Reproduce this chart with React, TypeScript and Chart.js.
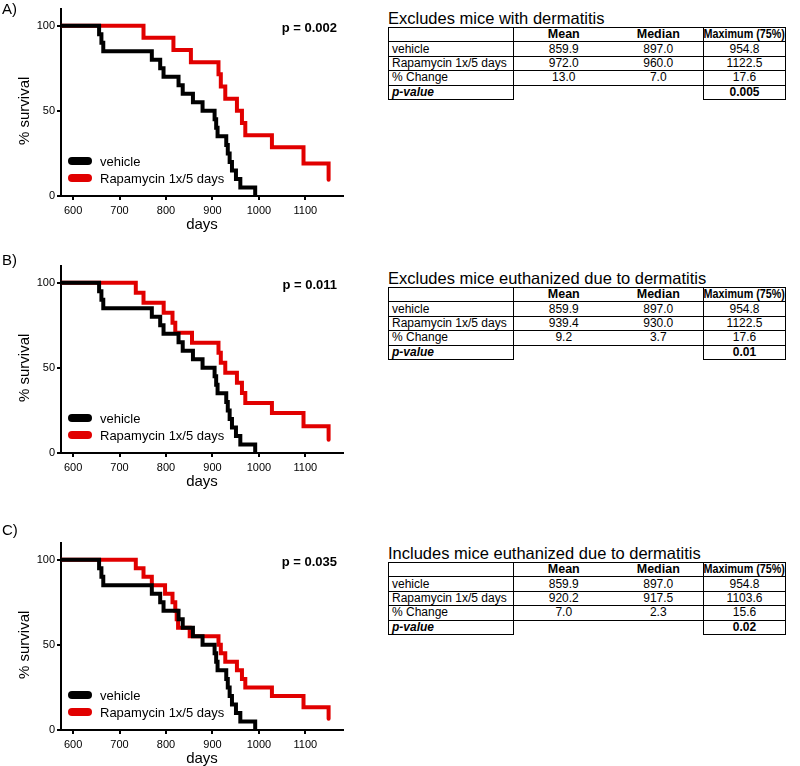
import React, { useEffect, useRef } from "react";
import { Chart, registerables } from "chart.js";

Chart.register(...registerables);

const FONT = "'Liberation Sans', Arial, Helvetica, sans-serif";
const RED = "#e10000";

// ---- axis config values ----
const xTicks = [600, 700, 800, 900, 1000, 1100];
const yTicks = [0, 50, 100];
const xMin = 574;
const xMax = 1181;
const yMax = 110;

// ---- series (Kaplan-Meier steps: day of event, survival % after event) ----
const seriesNames = ["vehicle", "Rapamycin 1x/5 days"];

const vehicleDays = [0, 656, 661, 665, 769.5, 787.5, 794.7, 827, 836, 858, 878.7, 904.6, 908, 911, 929.7, 933, 937, 942, 950.6, 960, 992];
const vehicleSurvival = [100, 95, 90, 85, 80, 75, 70, 65, 60, 55, 50, 45, 40, 35, 30, 25, 20, 15, 10, 5, 0];

const rapaDaysA = [0, 751.6, 816, 853.6, 913, 918, 927.6, 952.7, 963.5, 970.7, 1028, 1096, 1150];
const rapaSurvivalA = [100, 92.86, 85.71, 78.57, 71.43, 64.29, 57.14, 50, 42.86, 35.71, 28.57, 19.05, 9.52];

const rapaDaysB = [0, 735, 751.6, 795, 814, 820, 856, 913, 918, 927.6, 952.7, 963.5, 970.7, 1028, 1096, 1150];
const rapaSurvivalB = [100, 94.12, 88.24, 82.35, 76.47, 70.59, 64.71, 58.82, 52.94, 47.06, 41.18, 35.29, 29.41, 23.53, 15.69, 7.84];

const rapaDaysC = [0, 735, 751.6, 769.5, 798, 814, 820, 823, 826, 851, 913, 918, 927.6, 952.7, 963.5, 970.7, 1028, 1096, 1150];
const rapaSurvivalC = [100, 95, 90, 85, 80, 75, 70, 65, 60, 55, 50, 45, 40, 35, 30, 25, 20, 13.33, 6.67];

const panelLabels = ["A)", "B)", "C)"];
const pTexts = ["p = 0.002", "p = 0.011", "p = 0.035"];

// ---- tables ----
const tableTitles = [
  "Excludes mice with dermatitis",
  "Excludes mice euthanized due to dermatitis",
  "Includes mice euthanized due to dermatitis",
];
const columnHeaders = ["Mean", "Median", "Maximum (75%)"];
const rowLabels = ["vehicle", "Rapamycin 1x/5 days", "% Change"];
const tableValuesA = [["859.9", "897.0", "954.8"], ["972.0", "960.0", "1122.5"], ["13.0", "7.0", "17.6"]];
const tableValuesB = [["859.9", "897.0", "954.8"], ["939.4", "930.0", "1122.5"], ["9.2", "3.7", "17.6"]];
const tableValuesC = [["859.9", "897.0", "954.8"], ["920.2", "917.5", "1103.6"], ["7.0", "2.3", "15.6"]];
const pValueLabel = "p-value";
const tablePValues = ["0.005", "0.01", "0.02"];

const toPoints = (d: number[], s: number[]) => d.map((x, i) => ({ x, y: s[i] }));

function SurvivalChart(props: { days: number[]; surv: number[]; pText: string }) {
  const ref = useRef<HTMLCanvasElement>(null);
  useEffect(() => {
    if (!ref.current) return;
    const overlay = {
      id: "overlay",
      afterDraw(chart: any) {
        const { ctx, chartArea, scales } = chart;
        ctx.save();
        ctx.fillStyle = "#000";
        ctx.font = `bold 13px ${FONT}`;
        ctx.textAlign = "right";
        ctx.textBaseline = "middle";
        ctx.fillText(props.pText, chartArea.right - 6, scales.y.getPixelForValue(100) + 3);
        chart.data.datasets.forEach((ds: any, i: number) => {
          const y = chartArea.bottom - 35 + i * 17;
          ctx.strokeStyle = ds.borderColor;
          ctx.lineWidth = 8;
          ctx.lineCap = "round";
          ctx.beginPath();
          ctx.moveTo(chartArea.left + 11, y);
          ctx.lineTo(chartArea.left + 27, y);
          ctx.stroke();
          ctx.font = `13px ${FONT}`;
          ctx.textAlign = "left";
          ctx.fillText(ds.label, chartArea.left + 39, y + 1);
        });
        ctx.translate(25, scales.y.getPixelForValue(50));
        ctx.rotate(-Math.PI / 2);
        ctx.textAlign = "center";
        ctx.font = `15px ${FONT}`;
        ctx.fillText("% survival", 0, 0);
        ctx.restore();
      },
    };
    const border = { display: true, color: "#000", width: 2 };
    const chart = new Chart(ref.current, {
      type: "line",
      data: {
        datasets: [
          {
            label: seriesNames[0],
            data: toPoints(vehicleDays, vehicleSurvival),
            borderColor: "#000",
            backgroundColor: "#000",
            borderWidth: 4,
            borderCapStyle: "round",
            stepped: true,
            pointRadius: 0,
            fill: false,
            clip: 0,
          },
          {
            label: seriesNames[1],
            data: toPoints(props.days, props.surv),
            borderColor: RED,
            backgroundColor: RED,
            borderWidth: 4,
            borderCapStyle: "round",
            stepped: true,
            pointRadius: 0,
            fill: false,
            clip: 0,
          },
        ],
      },
      options: {
        animation: false,
        responsive: false,
        devicePixelRatio: 1,
        layout: { padding: { top: 7, right: 17, left: 0, bottom: 0 } },
        plugins: { legend: { display: false }, tooltip: { enabled: false } },
        scales: {
          x: {
            type: "linear",
            min: xMin,
            max: xMax,
            afterBuildTicks: (s: any) => {
              s.ticks = xTicks.map((v) => ({ value: v }));
            },
            afterFit: (s: any) => {
              s.height = 44;
            },
            border,
            grid: { display: true, drawOnChartArea: false, drawTicks: true, tickLength: 4, color: "#000", lineWidth: 2 },
            ticks: {
              color: "#000",
              font: { family: FONT, size: 11 },
              padding: 4,
              maxRotation: 0,
              autoSkip: false,
              callback: (v: any) => String(v),
            },
            title: { display: true, text: "days", color: "#000", font: { family: FONT, size: 15 }, padding: { top: 0, bottom: 6 } },
          },
          y: {
            type: "linear",
            min: 0,
            max: yMax,
            afterBuildTicks: (s: any) => {
              s.ticks = yTicks.map((v) => ({ value: v }));
            },
            afterFit: (s: any) => {
              s.width = 61;
            },
            border,
            grid: { display: true, drawOnChartArea: false, drawTicks: true, tickLength: 4, color: "#000", lineWidth: 2 },
            ticks: { color: "#000", font: { family: FONT, size: 11 }, padding: 2, autoSkip: false, callback: (v: any) => String(v) },
          },
        },
      } as any,
      plugins: [overlay],
    });
    return () => chart.destroy();
  }, [props.days, props.surv, props.pText]);
  return <canvas ref={ref} width={360} height={240} style={{ display: "block", width: 360, height: 240 }} />;
}

function StatsTable(props: { title: string; values: string[][]; pval: string; top: number }) {
  const b = "1px solid #000";
  const widths = [125, 100, 90, 82];
  const cell = (extra: any) => ({
    padding: 0,
    height: 13.4,
    lineHeight: "13px",
    fontSize: 12,
    fontFamily: FONT,
    whiteSpace: "nowrap" as const,
    overflow: "visible" as const,
    textAlign: "center" as const,
    ...extra,
  });
  const header = { fontWeight: "bold", fontSize: 12.5 };
  return (
    <div style={{ position: "absolute", left: 388, top: props.top }}>
      <div style={{ fontFamily: FONT, fontSize: 16.5, lineHeight: "16px", whiteSpace: "nowrap", height: 17 }}>{props.title}</div>
      <table style={{ borderCollapse: "collapse", tableLayout: "fixed", width: 397 }}>
        <colgroup>
          {widths.map((w, i) => (
            <col key={i} style={{ width: w }} />
          ))}
        </colgroup>
        <tbody>
          <tr>
            <td style={cell({ borderLeft: b, borderRight: b, borderTop: b, borderBottom: b })}></td>
            <td style={cell({ borderTop: b, borderBottom: b, ...header })}>{columnHeaders[0]}</td>
            <td style={cell({ borderTop: b, borderBottom: b, ...header })}>{columnHeaders[1]}</td>
            <td style={cell({ borderTop: b, borderBottom: b, borderLeft: b, borderRight: b, ...header })}>
              <span style={{ display: "inline-block", transform: "scaleX(0.86)", transformOrigin: "center", margin: "0 -8px" }}>{columnHeaders[2]}</span>
            </td>
          </tr>
          {rowLabels.map((lab, r) => (
            <tr key={r}>
              <td style={cell({ borderLeft: b, borderRight: b, borderTop: b, borderBottom: b, textAlign: "left", paddingLeft: 3 })}>{lab}</td>
              <td style={cell({ borderTop: b, borderBottom: b })}>{props.values[r][0]}</td>
              <td style={cell({ borderTop: b, borderBottom: b })}>{props.values[r][1]}</td>
              <td style={cell({ borderTop: b, borderBottom: b, borderLeft: b, borderRight: b })}>{props.values[r][2]}</td>
            </tr>
          ))}
          <tr>
            <td style={cell({ borderLeft: b, borderRight: b, borderTop: b, borderBottom: b, textAlign: "left", paddingLeft: 3, fontWeight: "bold", fontStyle: "italic" })}>{pValueLabel}</td>
            <td style={cell({ borderTop: b })}></td>
            <td style={cell({ borderTop: b })}></td>
            <td style={cell({ borderTop: b, borderBottom: b, borderLeft: b, borderRight: b, fontWeight: "bold" })}>{props.pval}</td>
          </tr>
        </tbody>
      </table>
    </div>
  );
}

export default function App() {
  const panels = [
    { days: rapaDaysA, surv: rapaSurvivalA, chartTop: 0, labelTop: 1, tableTop: 10, values: tableValuesA },
    { days: rapaDaysB, surv: rapaSurvivalB, chartTop: 257, labelTop: 252, tableTop: 270, values: tableValuesB },
    { days: rapaDaysC, surv: rapaSurvivalC, chartTop: 534, labelTop: 522, tableTop: 545, values: tableValuesC },
  ];
  return (
    <div style={{ position: "fixed", left: 0, top: 0, width: 800, height: 766, background: "#fff", overflow: "hidden", fontFamily: FONT, color: "#000" }}>
      {panels.map((p, i) => (
        <React.Fragment key={i}>
          <div style={{ position: "absolute", left: 0, top: p.chartTop }}>
            <SurvivalChart days={p.days} surv={p.surv} pText={pTexts[i]} />
          </div>
          <div style={{ position: "absolute", left: 2, top: p.labelTop, fontSize: 15, lineHeight: "15px", fontFamily: FONT }}>{panelLabels[i]}</div>
          <StatsTable title={tableTitles[i]} values={p.values} pval={tablePValues[i]} top={p.tableTop} />
        </React.Fragment>
      ))}
    </div>
  );
}
